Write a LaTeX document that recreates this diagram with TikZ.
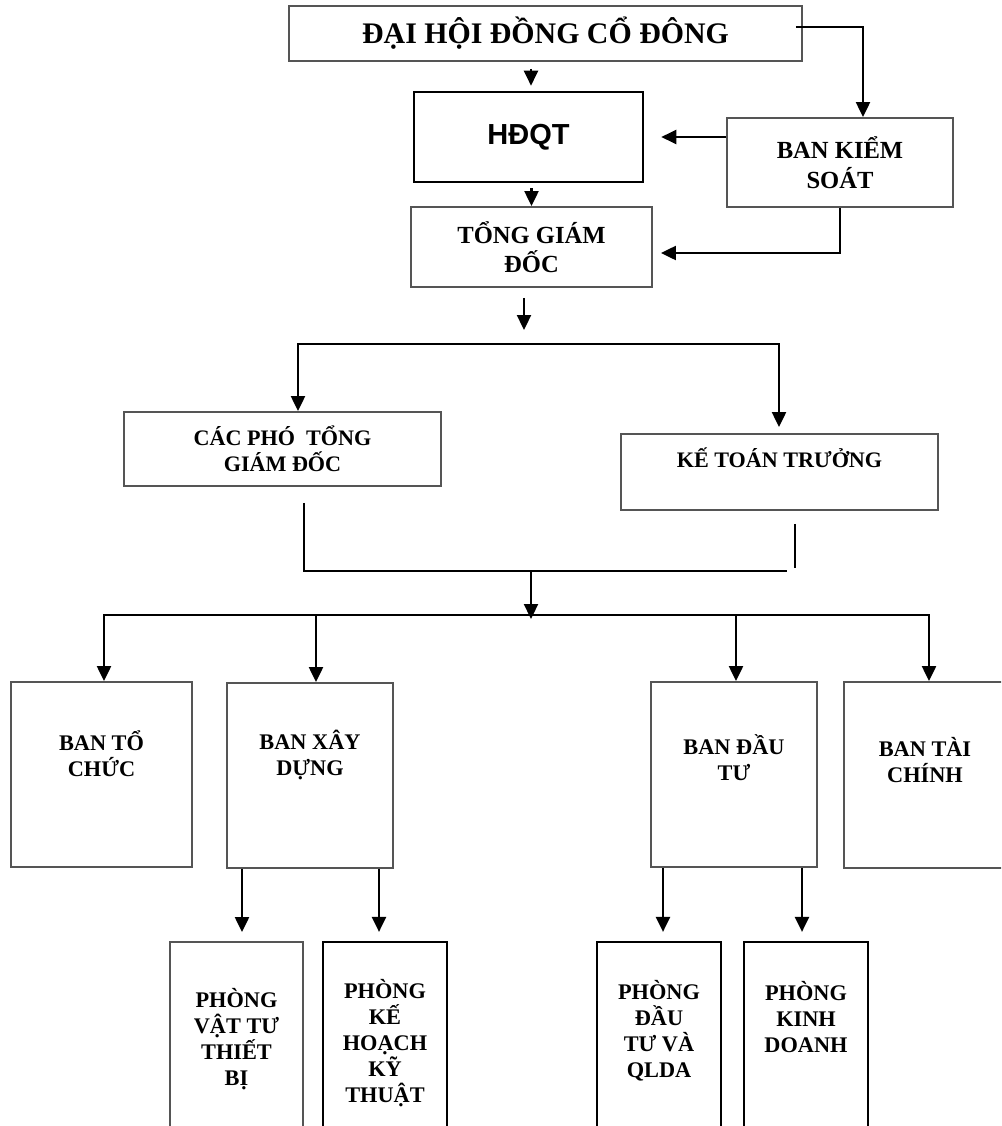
\documentclass[tikz,border=0pt]{standalone}
\usepackage{fontspec}
\setmainfont{Liberation Serif}
\newfontfamily\arialfont{Liberation Sans}
\usetikzlibrary{arrows.meta}
\definecolor{boxgray}{RGB}{85,85,85}
\tikzset{
  box/.style={rectangle, draw=boxgray, line width=1.1pt, inner sep=0pt},
  bbox/.style={rectangle, draw=black, line width=1.3pt, inner sep=0pt},
  titlefont/.style={font=\fontsize{17}{20}\selectfont\bfseries},
  midtxt/.style={align=center, font=\fontsize{14}{16.8}\selectfont\bfseries},
  smalltxt/.style={align=center, font=\fontsize{12.6}{14.8}\selectfont\bfseries},
  unittxt/.style={align=center, inner sep=0pt, font=\fontsize{12.7}{14.8}\selectfont\bfseries},
  arr/.style={-{Triangle[length=0.3cm, width=0.28cm]}, line width=1.3pt},
  conn/.style={line width=1.3pt},
}
\begin{document}
\begin{tikzpicture}[x=0.02cm, y=-0.02cm]
\useasboundingbox (0,0) rectangle (1001,1126);
\clip (0,0) rectangle (1001,1126);

% cap lanh dao
\node[box, minimum width=10.26cm, minimum height=1.10cm, titlefont] (dhcd) at (545.5,33.5) {ĐẠI HỘI ĐỒNG CỔ ĐÔNG};
\node[bbox, line width=1.5pt, minimum width=4.58cm, minimum height=1.80cm,
      font=\arialfont\fontsize{16.5}{19}\selectfont\bfseries] (hdqt) at (528.5,137) {HĐQT};
\node[box, minimum width=4.52cm, minimum height=1.78cm, midtxt] (bks) at (840,162.5) {BAN KIỂM\\SOÁT};
\node[box, minimum width=4.82cm, minimum height=1.60cm, midtxt] (tgd) at (531.5,247) {TỔNG GIÁM\\ĐỐC};

% pho tong va ke toan
\node[box, minimum width=6.34cm, minimum height=1.48cm, smalltxt] (cacpho) at (282.5,449) {CÁC PHÓ~ TỔNG\\GIÁM ĐỐC};
\node[box, minimum width=6.34cm, minimum height=1.52cm] (ketoan) at (779.5,472) {};
\node[smalltxt, inner sep=0pt] (ketoan-t) at ([yshift=0.28cm]ketoan.center) {KẾ TOÁN TRƯỞNG};

% cac ban
\node[box, minimum width=3.62cm, minimum height=3.70cm] (tochuc) at (101.5,774.5) {};
\node[box, minimum width=3.32cm, minimum height=3.70cm] (xaydung) at (310,775.5) {};
\node[box, minimum width=3.32cm, minimum height=3.70cm] (dautu) at (734,774.5) {};
\node[box, minimum width=3.24cm, minimum height=3.72cm] (taichinh) at (925,775) {};
\node[unittxt] (tochuc-t) at ([yshift=0.42cm]tochuc.center) {BAN TỔ\\CHỨC};
\node[unittxt] (xaydung-t) at ([yshift=0.41cm]xaydung.center) {BAN XÂY\\DỰNG};
\node[unittxt] (dautu-t) at ([yshift=0.34cm]dautu.center) {BAN ĐẦU\\TƯ};
\node[unittxt] (taichinh-t) at ([yshift=0.29cm]taichinh.center) {BAN TÀI\\CHÍNH};

% cac phong
\node[box, minimum width=2.66cm, minimum height=4.16cm] (vattu) at (236.5,1046) {};
\node[bbox, minimum width=2.48cm, minimum height=4.16cm] (kehoach) at (385,1046) {};
\node[bbox, minimum width=2.48cm, minimum height=4.16cm] (dautuql) at (659,1046) {};
\node[bbox, minimum width=2.48cm, minimum height=4.16cm] (kinhdoanh) at (806,1046) {};
\node[unittxt] (vattu-t) at ([yshift=0.14cm]vattu.center) {PHÒNG\\VẬT TƯ\\THIẾT\\BỊ};
\node[unittxt] (kehoach-t) at ([yshift=0.06cm]kehoach.center) {PHÒNG\\KẾ\\HOẠCH\\KỸ\\THUẬT};
\node[unittxt] (dautuql-t) at ([yshift=0.30cm]dautuql.center) {PHÒNG\\ĐẦU\\TƯ VÀ\\QLDA};
\node[unittxt] (kinhdoanh-t) at ([yshift=0.57cm]kinhdoanh.center) {PHÒNG\\KINH\\DOANH};

% duong noi phia tren
\draw[arr, shorten <=0.14cm, shorten >=0.1cm] ([xshift=0.05cm]hdqt.north |- dhcd.south) -- ([xshift=0.05cm]hdqt.north);
\draw[arr] ([xshift=-0.14cm, yshift=0.13cm]dhcd.east) -| ([xshift=0.46cm]bks.north);
\draw[arr, shorten >=0.34cm] (bks.west |- hdqt.east) -- (hdqt.east);
\draw[arr, shorten >=0.16cm] (bks.south) |- ([yshift=-0.12cm]tgd.east);
\draw[arr, shorten <=0.1cm] (hdqt.south -| tgd.north) -- (tgd.north);

% nhanh xuong pho tong / ke toan
\coordinate (bus1) at (524,344);
\draw[arr, shorten <=0.2cm, shorten >=0.28cm] (tgd.south -| bus1) -- (bus1);
\draw[arr] (bus1) -| ([xshift=0.31cm]cacpho.north);
\draw[arr, shorten >=0.12cm] (bus1) -| ([xshift=-0.01cm]ketoan.north);

% gom lai
\coordinate (merge) at (531,571);
\coordinate (mergeR) at (787,571);
\draw[conn] ([xshift=0.43cm, yshift=-0.32cm]cacpho.south) |- (mergeR);
\draw[conn, shorten >=0.06cm] ([xshift=0.31cm, yshift=-0.26cm]ketoan.south) -- ([xshift=0.31cm]ketoan.south |- mergeR);

% nhanh xuong cac ban
\coordinate (bus2) at (531,615);
\draw[arr, shorten >=-0.08cm] (merge) -- (bus2);
\draw[arr] (bus2) -| ([xshift=0.05cm]tochuc.north);
\draw[arr] (bus2) -| ([xshift=0.12cm]xaydung.north);
\draw[arr] (bus2) -| ([xshift=0.04cm]dautu.north);
\draw[arr] (bus2) -| ([xshift=0.08cm]taichinh.north);

% xuong cac phong
\draw[arr, shorten >=0.18cm] ([xshift=0.11cm]vattu.north |- xaydung.south) -- ([xshift=0.11cm]vattu.north);
\draw[arr, shorten >=0.18cm] ([xshift=-0.12cm]kehoach.north |- xaydung.south) -- ([xshift=-0.12cm]kehoach.north);
\draw[arr, shorten >=0.18cm] ([xshift=0.08cm]dautuql.north |- dautu.south) -- ([xshift=0.08cm]dautuql.north);
\draw[arr, shorten >=0.18cm] ([xshift=-0.08cm]kinhdoanh.north |- dautu.south) -- ([xshift=-0.08cm]kinhdoanh.north);
\end{tikzpicture}
\end{document}
